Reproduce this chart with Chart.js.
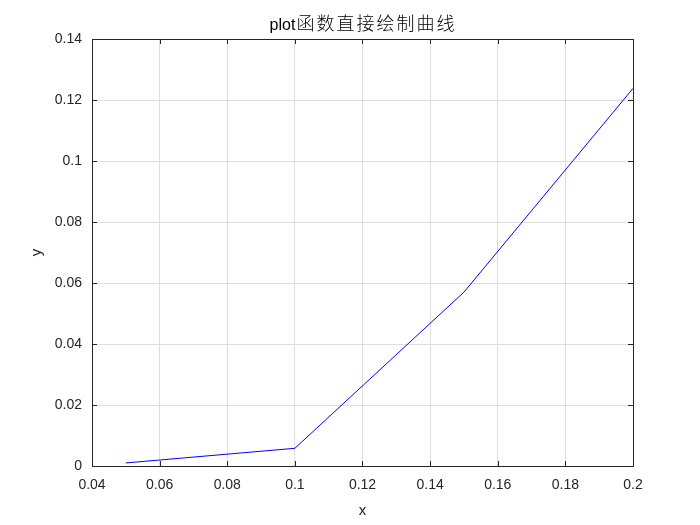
<!DOCTYPE html>
<html>
<head>
<meta charset="utf-8">
<script src="https://cdn.jsdelivr.net/npm/chart.js@4/dist/chart.umd.min.js"></script>
<style>
  html, body { margin: 0; padding: 0; background: #fff; }
  #wrap { width: 700px; height: 525px; position: relative; }
</style>
</head>
<body>
<div id="wrap"><canvas id="plot"></canvas></div>
<script>
// values
const xValues = [0.05, 0.10, 0.15, 0.20];
const yValues = [0.001, 0.0058, 0.057, 0.1238];

// title is latin + chinese, the chinese part renders wider in the original
const titleLatin = 'plot';
const titleCjk = '函数直接绘制曲线';
const xTitle = 'x';
const yTitle = 'y';

const fontFamily = 'Arial, "Liberation Sans", "Noto Sans CJK SC", sans-serif';
const axisColor = '#262626';

// MATLAB style box with inward tick marks, plus the mixed font title
const boxPlugin = {
    id: 'box',
    afterDraw(chart) {
        const ctx = chart.ctx;
        const a = chart.chartArea;
        const len = 5;
        ctx.save();
        ctx.strokeStyle = axisColor;
        ctx.lineWidth = 1;
        ctx.beginPath();
        chart.scales.x.ticks.forEach(t => {
            var px = Math.round(chart.scales.x.getPixelForValue(t.value)) + 0.5;
            ctx.moveTo(px, a.bottom); ctx.lineTo(px, a.bottom - len);
            ctx.moveTo(px, a.top); ctx.lineTo(px, a.top + len);
        });
        chart.scales.y.ticks.forEach(t => {
            var py = Math.round(chart.scales.y.getPixelForValue(t.value)) + 0.5;
            ctx.moveTo(a.left, py); ctx.lineTo(a.left + len, py);
            ctx.moveTo(a.right, py); ctx.lineTo(a.right - len, py);
        });
        ctx.stroke();
        ctx.strokeRect(Math.round(a.left) + 0.5, Math.round(a.top) + 0.5,
                       Math.round(a.right - a.left), Math.round(a.bottom - a.top));

        // title
        var baseline = 30;
        ctx.fillStyle = '#000';
        ctx.textBaseline = 'alphabetic';
        ctx.textAlign = 'left';
        ctx.font = '16px ' + fontFamily;
        var w1 = ctx.measureText(titleLatin).width;
        ctx.font = '300 18px "Noto Sans CJK SC", sans-serif';
        if ('letterSpacing' in ctx) ctx.letterSpacing = '2px';
        var w2 = ctx.measureText(titleCjk).width;
        var x0 = (a.left + a.right) / 2 - (w1 + w2) / 2;
        ctx.fillText(titleCjk, x0 + w1 + 1, baseline);
        if ('letterSpacing' in ctx) ctx.letterSpacing = '0px';
        ctx.font = '16px ' + fontFamily;
        ctx.fillText(titleLatin, x0, baseline);
        ctx.restore();
    }
};

function fmt(v) {
    return String(parseFloat(Number(v).toFixed(4)));
}

new Chart(document.getElementById('plot'), {
    type: 'scatter',
    data: {
        datasets: [{
            data: xValues.map((x, i) => ({ x: x, y: yValues[i] })),
            showLine: true,
            borderColor: '#0000ff',
            backgroundColor: '#0000ff',
            borderWidth: 1,
            pointRadius: 0,
            tension: 0
        }]
    },
    options: {
        responsive: true,
        maintainAspectRatio: false,
        animation: false,
        layout: { padding: { left: 0, right: 67, top: 39, bottom: 0 } },
        plugins: {
            legend: { display: false },
            tooltip: { enabled: false },
            title: { display: false }
        },
        scales: {
            x: {
                type: 'linear',
                min: 0.04,
                max: 0.2,
                afterFit: (scale) => { scale.height = 59; },
                ticks: {
                    stepSize: 0.02,
                    color: axisColor,
                    padding: 11,
                    maxRotation: 0,
                    font: { family: fontFamily, size: 14 },
                    callback: fmt
                },
                grid: { color: '#dedede', drawTicks: false },
                border: { display: false },
                title: {
                    display: true,
                    text: xTitle,
                    color: axisColor,
                    font: { family: fontFamily, size: 15 },
                    padding: { top: 4, bottom: 5 }
                }
            },
            y: {
                type: 'linear',
                min: 0,
                max: 0.14,
                afterFit: (scale) => { scale.width = 92; },
                ticks: {
                    stepSize: 0.02,
                    color: axisColor,
                    padding: 10,
                    font: { family: fontFamily, size: 14 },
                    callback: fmt
                },
                grid: { color: '#dedede', drawTicks: false },
                border: { display: false },
                title: {
                    display: true,
                    text: yTitle,
                    color: axisColor,
                    font: { family: fontFamily, size: 15 },
                    padding: { top: 28, bottom: 0 }
                }
            }
        }
    },
    plugins: [boxPlugin]
});
</script>
</body>
</html>
